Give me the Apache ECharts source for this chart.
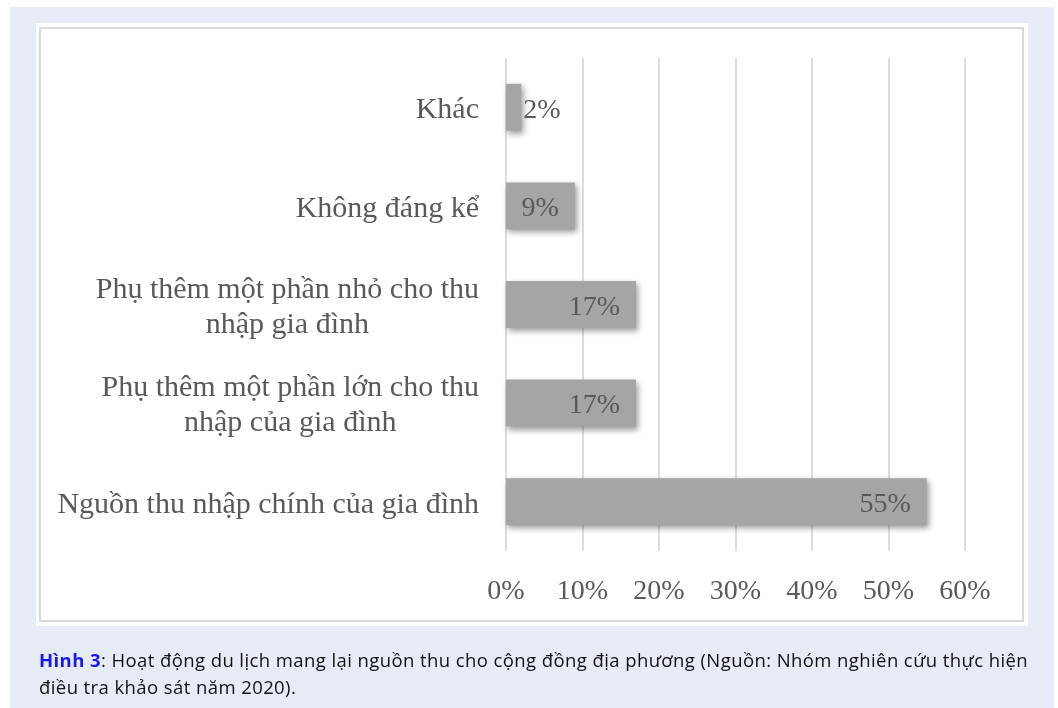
<!DOCTYPE html>
<html>
<head>
    <meta charset="utf-8"/>
    <title>Hình 3</title>
    <script src="https://cdn.jsdelivr.net/npm/echarts@6/dist/echarts.min.js"></script>
    <style>
        html, body { margin: 0; padding: 0; background: #ffffff; }
        #page { position: absolute; left: 10px; top: 7px; width: 1044px; height: 701px; background: #e7ebf6; }
        #panel { position: absolute; left: 36px; top: 23px; width: 992px; height: 603px; background: #ffffff; }
        #frame { position: absolute; left: 39px; top: 27px; width: 981px; height: 591px; border: 2px solid #d9d9d9; }
        #main { position: absolute; left: 0; top: 0; width: 1058px; height: 708px; }
        #caption { position: absolute; left: 39px; top: 646px; font-family: "Open Sans", sans-serif;
                   font-size: 18.5px; line-height: 27px; color: #111111; letter-spacing: 0.41px; white-space: nowrap; }
        #caption b { color: #1818e8; }
    </style>
</head>
<body>
<div id="page"></div>
<div id="panel"></div>
<div id="frame"></div>
<div id="main"></div>
<div id="caption"><b>Hình 3</b>: Hoạt động du lịch mang lại nguồn thu cho cộng đồng địa phương (Nguồn: Nhóm nghiên cứu thực hiện<br>điều tra khảo sát năm 2020).</div>
<script type="text/javascript">
    // danh mục (từ trên xuống)
    var categories = [
        'Khác',
        'Không đáng kể',
        'Phụ thêm một phần nhỏ cho thu\nnhập gia đình',
        'Phụ thêm một phần lớn cho thu\nnhập của gia đình',
        'Nguồn thu nhập chính của gia đình'
    ];
    // tỷ lệ %
    var values = [2, 9, 17, 17, 55];
    // nhãn trục x
    var xTicks = [0, 10, 20, 30, 40, 50, 60];

    var myChart = echarts.init(document.getElementById('main'));
    var serif = '"Liberation Serif", "Times New Roman", serif';

    // thanh quá ngắn thì nhãn đặt ra ngoài
    var barData = values.map(function (v) {
        if (v < 5) {
            return { value: v, label: { position: 'right', distance: 2 } };
        }
        return v;
    });

    var option = {
        backgroundColor: 'transparent',
        animation: false,
        grid: { left: 506, right: 93, top: 58, bottom: 157 },
        xAxis: {
            type: 'value',
            min: xTicks[0],
            max: xTicks[xTicks.length - 1],
            interval: xTicks[1] - xTicks[0],
            axisLine: { show: false },
            axisTick: { show: false },
            splitLine: { lineStyle: { color: '#dcdcdc', width: 2 } },
            axisLabel: {
                formatter: '{value}%',
                margin: 27,
                fontFamily: serif,
                fontSize: 28,
                color: '#595959'
            }
        },
        yAxis: {
            type: 'category',
            inverse: true,
            data: categories,
            axisLine: { show: false },
            axisTick: { show: false },
            axisLabel: {
                margin: 27,
                padding: [6, 0, 0, 0],
                fontFamily: serif,
                fontSize: 30,
                lineHeight: 35,
                color: '#595959',
                formatter: function (val) {
                    return val.split('\n').map(function (s) { return '{c|' + s + '}'; }).join('\n');
                },
                rich: {
                    c: { align: 'center', fontFamily: serif, fontSize: 30, lineHeight: 35, color: '#595959' }
                }
            }
        },
        series: [{
            type: 'bar',
            data: barData,
            barWidth: 47,
            itemStyle: {
                color: '#a5a5a5',
                shadowColor: 'rgba(0,0,0,0.4)',
                shadowBlur: 6,
                shadowOffsetX: 2,
                shadowOffsetY: 3
            },
            label: {
                show: true,
                position: 'insideRight',
                distance: 16,
                offset: [0, 3],
                formatter: '{c}%',
                fontFamily: serif,
                fontSize: 28,
                color: '#595959'
            }
        }]
    };

    myChart.setOption(option);
</script>
</body>
</html>
